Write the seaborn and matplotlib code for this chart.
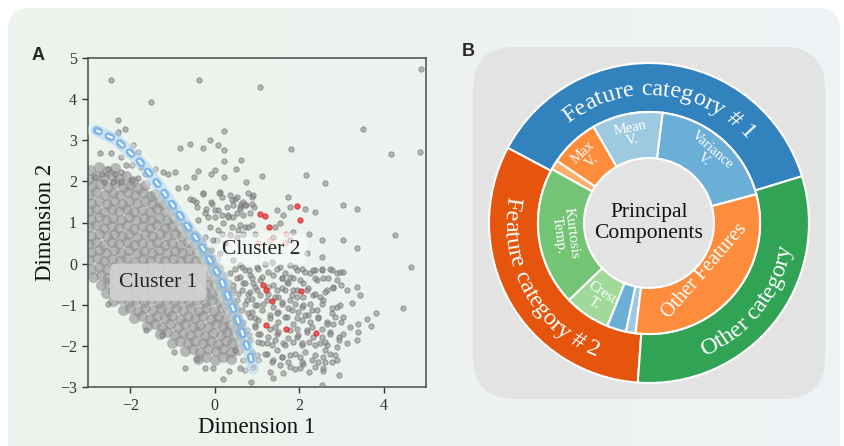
import numpy as np
import pandas as pd
import matplotlib
matplotlib.use("Agg")
import matplotlib.pyplot as plt
import seaborn as sns
from matplotlib.patches import FancyBboxPatch
from matplotlib.colors import LinearSegmentedColormap
from matplotlib.textpath import TextToPath
from matplotlib.font_manager import FontProperties

sns.set_theme(style="white")
plt.rcParams["font.family"] = ["Liberation Serif", "DejaVu Serif"]
plt.rcParams["lines.scale_dashes"] = False

# ---------------- DATA ----------------
# Cluster 1 (dense, light gray) points
cluster1_points = [
    (-2.95,2.28),(-2.75,2.35),(-2.55,2.25),(-2.35,2.32),
    (-2.98,2.05),(-2.8,2.12),(-2.62,2.08),(-2.45,2.15),(-2.27,2.05),(-2.1,2.12),(-1.93,2.02),
    (-2.9,1.88),(-2.72,1.93),(-2.53,1.86),(-2.36,1.95),(-2.18,1.87),(-2.0,1.92),(-1.82,1.85),(-1.65,1.9),
    (-2.97,1.68),(-2.8,1.73),(-2.6,1.66),(-2.42,1.72),(-2.25,1.67),(-2.05,1.74),(-1.88,1.66),(-1.7,1.72),(-1.52,1.65),(-1.42,1.7),
    (-2.92,1.47),(-2.74,1.53),(-2.55,1.46),(-2.38,1.52),(-2.2,1.45),(-2.02,1.53),(-1.84,1.47),(-1.66,1.52),(-1.48,1.45),(-1.3,1.5),(-1.2,1.44),
    (-2.98,1.28),(-2.8,1.33),(-2.62,1.26),(-2.44,1.32),(-2.26,1.27),(-2.08,1.33),(-1.9,1.26),(-1.72,1.31),(-1.54,1.25),(-1.36,1.33),(-1.18,1.27),(-1.02,1.3),
    (-2.93,1.08),(-2.75,1.13),(-2.57,1.06),(-2.4,1.12),(-2.22,1.07),(-2.04,1.13),(-1.86,1.06),(-1.68,1.12),(-1.5,1.05),(-1.32,1.11),(-1.14,1.07),(-0.97,1.12),(-0.82,1.05),
    (-2.97,0.88),(-2.8,0.93),(-2.62,0.86),(-2.44,0.92),(-2.26,0.87),(-2.08,0.93),(-1.9,0.85),(-1.72,0.91),(-1.54,0.87),(-1.36,0.93),(-1.18,0.86),(-1.0,0.91),(-0.83,0.86),(-0.65,0.9),
    (-2.92,0.68),(-2.74,0.73),(-2.56,0.66),(-2.38,0.72),(-2.2,0.67),(-2.02,0.73),(-1.84,0.65),(-1.66,0.71),(-1.48,0.67),(-1.3,0.73),(-1.12,0.66),(-0.94,0.71),(-0.77,0.66),(-0.6,0.72),(-0.47,0.67),
    (-2.98,0.48),(-2.8,0.53),(-2.62,0.46),(-2.44,0.52),(-2.26,0.47),(-2.08,0.53),(-1.9,0.45),(-1.72,0.51),(-1.54,0.47),(-1.36,0.53),(-1.18,0.46),(-1.0,0.51),(-0.82,0.46),(-0.64,0.52),(-0.47,0.47),(-0.32,0.5),
    (-2.93,0.28),(-2.75,0.33),(-2.57,0.26),(-2.39,0.32),(-2.21,0.27),(-2.03,0.33),(-1.85,0.25),(-1.67,0.31),(-1.49,0.27),(-1.31,0.33),(-1.13,0.26),(-0.95,0.31),(-0.77,0.26),(-0.59,0.32),(-0.41,0.27),(-0.25,0.3),(-0.15,0.25),
    (-2.97,0.08),(-2.79,0.13),(-2.61,0.06),(-2.43,0.12),(-2.25,0.07),(-2.07,0.13),(-1.89,0.05),(-1.71,0.11),(-1.53,0.07),(-1.35,0.13),(-1.17,0.06),(-0.99,0.11),(-0.81,0.06),(-0.63,0.12),(-0.45,0.07),(-0.27,0.11),(-0.1,0.06),(0.0,0.1),
    (-2.92,-0.12),(-2.74,-0.07),(-2.56,-0.14),(-2.38,-0.08),(-2.2,-0.13),(-2.02,-0.07),(-1.84,-0.15),(-1.66,-0.09),(-1.48,-0.13),(-1.3,-0.07),(-1.12,-0.14),(-0.94,-0.09),(-0.76,-0.14),(-0.58,-0.08),(-0.4,-0.13),(-0.22,-0.09),(-0.05,-0.14),(0.08,-0.1),
    (-2.88,-0.32),(-2.7,-0.27),(-2.52,-0.34),(-2.34,-0.28),(-2.16,-0.33),(-1.98,-0.27),(-1.8,-0.35),(-1.62,-0.29),(-1.44,-0.33),(-1.26,-0.27),(-1.08,-0.34),(-0.9,-0.29),(-0.72,-0.34),(-0.54,-0.28),(-0.36,-0.33),(-0.18,-0.29),(0.0,-0.34),(0.17,-0.3),
    (-2.7,-0.52),(-2.52,-0.47),(-2.34,-0.54),(-2.16,-0.48),(-1.98,-0.53),(-1.8,-0.47),(-1.62,-0.55),(-1.44,-0.49),(-1.26,-0.53),(-1.08,-0.47),(-0.9,-0.54),(-0.72,-0.49),(-0.54,-0.54),(-0.36,-0.48),(-0.18,-0.53),(0.0,-0.49),(0.15,-0.54),(0.28,-0.5),
    (-2.58,-0.72),(-2.4,-0.67),(-2.22,-0.74),(-2.04,-0.68),(-1.86,-0.73),(-1.68,-0.67),(-1.5,-0.75),(-1.32,-0.69),(-1.14,-0.73),(-0.96,-0.67),(-0.78,-0.74),(-0.6,-0.69),(-0.42,-0.74),(-0.24,-0.68),(-0.06,-0.73),(0.12,-0.69),(0.27,-0.74),(0.36,-0.7),
    (-2.4,-0.92),(-2.22,-0.87),(-2.04,-0.94),(-1.86,-0.88),(-1.68,-0.93),(-1.5,-0.87),(-1.32,-0.95),(-1.14,-0.89),(-0.96,-0.93),(-0.78,-0.87),(-0.6,-0.94),(-0.42,-0.89),(-0.24,-0.94),(-0.06,-0.88),(0.12,-0.93),(0.28,-0.89),(0.42,-0.94),
    (-2.18,-1.12),(-2.0,-1.07),(-1.82,-1.14),(-1.64,-1.08),(-1.46,-1.13),(-1.28,-1.07),(-1.1,-1.15),(-0.92,-1.09),(-0.74,-1.13),(-0.56,-1.07),(-0.38,-1.14),(-0.2,-1.09),(-0.02,-1.14),(0.16,-1.08),(0.32,-1.13),(0.47,-1.09),
    (-1.9,-1.32),(-1.72,-1.27),(-1.54,-1.34),(-1.36,-1.28),(-1.18,-1.33),(-1.0,-1.27),(-0.82,-1.35),(-0.64,-1.29),(-0.46,-1.33),(-0.28,-1.27),(-0.1,-1.34),(0.08,-1.29),(0.25,-1.34),(0.4,-1.28),(0.53,-1.33),
    (-1.6,-1.52),(-1.42,-1.47),(-1.24,-1.54),(-1.06,-1.48),(-0.88,-1.53),(-0.7,-1.47),(-0.52,-1.55),(-0.34,-1.49),(-0.16,-1.53),(0.02,-1.47),(0.2,-1.54),(0.36,-1.49),(0.5,-1.54),(0.6,-1.5),
    (-1.3,-1.72),(-1.12,-1.67),(-0.94,-1.74),(-0.76,-1.68),(-0.58,-1.73),(-0.4,-1.67),(-0.22,-1.75),(-0.04,-1.69),(0.14,-1.73),(0.3,-1.67),(0.46,-1.74),(0.62,-1.7),
    (-1.0,-1.92),(-0.82,-1.87),(-0.64,-1.94),(-0.46,-1.88),(-0.28,-1.93),(-0.1,-1.87),(0.08,-1.95),(0.26,-1.89),(0.42,-1.93),(0.6,-1.88),
    (-0.7,-2.12),(-0.52,-2.07),(-0.34,-2.14),(-0.16,-2.08),(0.02,-2.13),(0.2,-2.07),(0.38,-2.14),(0.55,-2.09),
    (-0.4,-2.32),(-0.2,-2.27),(0.0,-2.34),(0.2,-2.28),(0.38,-2.33),
]

# Sparse / cluster 2 gray points
cluster2_points = [
    # upper-left fringe above cluster 1
    (-2.29,3.17),(-2.72,2.68),(-2.45,2.68),(-2.21,2.60),(-1.93,2.88),(-1.82,2.72),(-1.97,2.40),(-2.09,2.40),
    (-1.74,2.36),(-1.66,2.19),(-2.21,2.23),(-2.37,2.19),(-2.53,2.31),(-2.68,2.19),(-2.84,2.11),(-2.61,1.99),
    (-2.41,1.99),(-2.21,1.99),(-1.97,2.03),(-1.82,2.07),(-2.30,3.49),(-2.12,3.27),(-2.29,3.19),
    # far outliers
    (-2.46,4.46),(-0.38,4.47),(1.06,4.29),(-1.52,3.94),(4.87,4.73),(3.52,3.27),(4.85,2.72),(4.17,2.66),
    (1.81,2.79),(1.13,2.14),(2.15,2.16),(2.61,1.95),(4.26,0.69),(4.64,-0.09),(4.45,-1.08),(3.81,-1.20),
    (3.43,-0.77),(3.25,-0.95),(3.60,-1.34),(3.70,-1.51),(3.40,-1.46),(3.38,-1.66),(2.94,-2.72),(2.53,-2.94),
    (2.61,-2.39),(2.56,-2.60),(1.90,-2.57),(0.20,-2.81),(0.85,-2.88),(0.60,-2.54),(0.34,-2.62),(-0.04,-2.55),
    (-0.23,-2.55),(-0.71,-2.55),(-0.97,-2.15),(-0.43,-2.31),(-1.62,-1.62),(-1.26,-1.74),(-2.53,-0.97),
    # upper middle
    (0.23,3.23),(-0.83,2.80),(-0.59,2.92),(-0.28,2.80),(-0.12,3.00),(0.08,2.88),(0.23,2.76),(0.63,2.53),
    (0.23,2.50),(0.00,2.27),(-0.08,2.19),(-0.40,2.26),(-0.48,2.11),(0.51,2.31),(0.75,1.99),(0.23,2.11),
    (-1.42,2.29),(-1.22,2.23),(-1.11,2.19),(-0.95,2.23),(-0.87,1.83),(-0.67,1.87),(-0.59,1.58),(-0.44,1.50),
    (-0.28,1.71),(-0.20,1.34),(-0.08,1.50),(0.12,1.75),(0.16,1.63),(0.35,1.67),(0.47,1.56),(0.63,1.46),
    (0.87,1.63),(0.94,1.38),(0.75,1.42),(0.59,1.38),(0.08,1.30),(0.31,1.18),(0.43,1.14),(-0.40,1.06),
    (-0.16,1.14),(0.00,1.14),(-0.24,0.65),(-0.04,0.57),(0.16,0.73),(0.55,0.81),(0.71,0.90),(0.87,0.94),
    (-0.08,0.33),(0.12,0.25),
    # cluster 2 body
    (-0.27,1.69),(0.11,1.72),(0.40,1.55),(0.52,1.63),(0.68,1.50),(0.79,1.71),(0.91,1.67),(0.28,1.38),
    (0.44,1.42),(0.60,1.34),(0.72,1.42),(0.87,1.46),(-0.07,1.46),(0.01,1.30),(-0.23,1.22),(0.16,1.18),
    (0.32,1.14),(0.52,1.22),(0.68,1.18),(0.83,1.22),(1.47,1.30),(1.62,1.18),(1.74,1.63),(1.78,1.38),
    (2.14,1.34),(2.37,1.26),(3.04,1.42),(3.36,1.34),(-0.51,1.55),(-0.43,1.38),
    (-0.11,0.90),(0.08,0.81),(0.20,0.98),(0.40,0.90),(0.60,0.94),(0.79,0.90),(0.95,0.73),(0.52,0.65),
    (0.68,0.73),(0.05,0.57),(0.24,0.49),(0.36,0.69),(1.43,0.90),(1.54,0.98),(1.86,0.77),(2.22,0.73),
    (2.53,0.57),(3.04,0.57),(3.36,0.37),(2.18,0.25),(2.53,0.17),(1.39,0.65),(1.78,0.57),
    (0.44,0.09),(0.60,-0.04),(0.72,-0.16),(0.83,-0.28),(0.99,-0.08),(1.19,0.00),(1.35,0.05),(1.54,-0.08),
    (1.78,-0.04),(1.94,-0.16),(2.06,-0.12),(2.26,-0.24),(2.37,-0.16),(2.53,-0.16),(2.73,-0.12),(2.89,-0.24),
    (3.04,-0.20),(0.36,-0.24),(0.52,-0.36),(0.68,-0.48),(0.91,-0.48),(1.07,-0.40),(1.27,-0.56),(1.39,-0.28),
    (1.58,-0.36),(1.70,-0.44),(1.86,-0.36),(2.10,-0.48),(2.41,-0.40),(2.57,-0.36),(2.89,-0.40),(2.81,-0.56),
    (3.12,-0.64),(3.36,-0.56),(0.44,-0.64),(0.64,-0.64),(0.79,-0.73),(0.99,-0.64),(1.47,-0.64),(1.66,-0.64),
    (1.86,-0.64),(2.18,-0.64),(2.33,-0.77),(2.49,-0.81),(2.65,-0.64),
    (0.52,-0.89),(0.72,-0.97),(0.87,-0.85),(0.99,-1.01),(1.23,-0.89),(1.43,-0.81),(1.58,-0.97),(1.78,-0.89),
    (1.94,-0.81),(2.06,-1.05),(2.26,-0.97),(2.41,-1.13),(2.57,-0.89),(2.77,-1.21),(2.89,-1.05),(0.60,-1.13),
    (0.79,-1.21),(0.95,-1.33),(1.11,-1.13),(1.31,-1.25),(1.50,-1.17),(1.66,-1.29),(1.82,-1.13),(1.94,-1.33),
    (2.14,-1.25),(2.26,-1.42),(2.45,-1.29),(2.65,-1.42),(2.81,-1.46),(3.04,-1.29),(3.20,-1.54),
    (0.60,-1.54),(0.76,-1.62),(0.95,-1.50),(1.07,-1.70),(1.31,-1.58),(1.47,-1.70),(1.78,-1.62),(1.94,-1.78),
    (2.18,-1.62),(2.33,-1.78),(2.53,-1.58),(2.73,-1.66),(2.93,-1.78),(3.04,-1.70),(0.83,-1.86),(1.03,-1.90),
    (1.23,-1.94),(1.43,-1.86),(1.62,-1.94),(1.86,-1.90),(2.06,-1.98),(2.22,-1.90),(2.49,-1.94),(2.65,-1.98),
    (2.89,-2.02),(3.12,-1.94),(3.36,-1.86),
    (0.99,-2.23),(1.23,-2.19),(1.39,-2.35),(1.58,-2.27),(1.78,-2.23),(2.02,-2.27),(2.10,-2.43),(2.29,-2.35),
    (2.57,-2.27),(2.73,-2.19),(2.89,-2.35),(0.91,-2.51),(1.31,-2.63),(1.54,-2.47),(1.78,-2.51),(2.02,-2.55),
    (2.22,-2.63),(2.37,-2.51),(2.57,-2.55),(1.39,-2.79),(1.62,-2.67),(0.68,-2.35),(0.72,-2.59),
    # dense core of cluster 2
    (0.48,-0.12),(0.64,-0.08),(0.80,-0.16),(1.03,-0.12),(1.27,-0.20),(1.47,-0.12),(1.66,-0.24),(1.90,-0.08),
    (2.14,-0.20),(2.33,-0.16),(2.53,-0.12),(2.77,-0.16),(2.96,-0.20),(0.60,-0.32),(0.87,-0.36),(1.11,-0.32),
    (1.58,-0.36),(1.78,-0.32),(2.02,-0.40),(2.37,-0.36),(2.69,-0.36),
    (0.44,-0.52),(0.72,-0.48),(0.95,-0.56),(1.39,-0.52),(1.58,-0.60),(1.74,-0.48),(1.94,-0.64),(2.21,-0.60),
    (2.37,-0.73),(2.61,-0.68),(2.81,-0.60),(3.00,-0.52),(0.56,-0.73),(0.83,-0.68),(1.07,-0.77),(1.27,-0.73),
    (1.50,-0.81),(1.82,-0.77),(2.10,-0.81),
    (0.48,-0.93),(0.76,-0.89),(0.95,-1.01),(1.15,-0.97),(1.39,-1.05),(1.58,-0.93),(1.74,-1.09),(1.90,-0.97),
    (2.10,-1.01),(2.29,-1.13),(2.53,-0.97),(2.77,-1.09),(2.96,-1.01),(0.64,-1.13),(0.87,-1.17),(1.47,-1.21),
    (1.98,-1.17),
    (0.48,-1.33),(0.68,-1.42),(0.83,-1.29),(1.03,-1.37),(1.31,-1.33),(1.50,-1.42),(1.70,-1.29),(1.86,-1.46),
    (2.06,-1.37),(2.21,-1.25),(2.45,-1.33),(2.65,-1.46),(2.85,-1.29),(3.00,-1.42),(0.95,-1.54),(1.43,-1.54),
    (1.94,-1.58),(2.29,-1.54),
    (0.56,-1.66),(0.80,-1.74),(1.03,-1.70),(1.27,-1.78),(1.50,-1.66),(1.74,-1.82),(1.98,-1.74),(2.18,-1.66),
    (2.53,-1.78),(2.73,-1.70),(2.93,-1.86),(0.72,-1.94),(1.11,-1.94),(1.35,-1.98),(1.66,-1.98),(2.06,-1.94),
    (2.37,-1.98),(2.61,-1.90),
    (0.48,-2.10),(0.87,-2.14),(1.19,-2.19),(1.47,-2.10),(1.58,-2.27),(1.90,-2.19),(2.14,-2.14),(2.37,-2.23),
    (2.61,-2.10),(2.85,-2.23),(1.03,-2.35),(1.35,-2.39),(1.74,-2.39),(2.06,-2.39),(2.45,-2.39),(2.77,-2.39),
]

# Highlighted (red) points
highlight_points = [
    (1.07,1.20),(1.19,1.16),(1.29,0.90),(1.94,1.40),(2.02,1.07),(1.15,-0.52),(1.21,-0.64),
    (1.35,-0.91),(2.04,-0.67),(1.21,-1.50),(1.69,-1.58),(2.40,-1.68),
]
highlight_faint_points = [(1.69,0.73),(1.31,0.57),(1.03,0.49),(1.66,0.49)]

# Dashed cluster boundary
boundary_x = [-2.80, -2.33, -1.77, -1.30, -0.83, -0.35, 0.12, 0.52, 0.83, 0.91]
boundary_y = [3.24, 3.01, 2.48, 1.87, 1.18, 0.49, -0.32, -1.30, -2.19, -2.55]

x_ticks = [-2, 0, 2, 4]
y_ticks = [-3, -2, -1, 0, 1, 2, 3, 4, 5]

# Donut chart
outer_labels = ["Feature category # 1", "Feature category # 2", "Other category"]
outer_values = [135, 114, 111]
inner_labels = ["Variance\nV.", "Mean\nV.", "Max\nV.", "", "Kurtosis\nTemp.", "Crest\nT.", "", "", "Other Features"]
inner_values = [68, 37, 26, 5, 73, 24, 10, 5, 112]
center_label = "Principal\nComponents"

# ---------------- STYLE ----------------
outer_colors = ["#3182bd", "#e6550d", "#31a354"]
inner_colors = ["#6baed6", "#9ecae1", "#fd8d3c", "#fdae6b", "#74c476", "#a1d99b", "#6baed6", "#9ecae1", "#fd8d3c"]
inner_label_radius = {"Kurtosis\nTemp.": 0.53, "Other Features": 0.46}
inner_label_size = {"Other Features": 14.5, "Kurtosis\nTemp.": 11}
SERIF = "Liberation Serif"

W, H = 845, 446
fig = plt.figure(figsize=(W / 100, H / 100), dpi=100)
fig.patch.set_facecolor("white")

# background panel
bg = fig.add_axes([0, 0, 1, 1])
bg.set_xlim(0, W)
bg.set_ylim(0, H)
bg.set_axis_off()
panel = FancyBboxPatch((8, -30), W - 13, H - 8 + 30, boxstyle="round,pad=0,rounding_size=22",
                       fc="none", ec="none")
bg.add_patch(panel)
cmap = LinearSegmentedColormap.from_list("bgc", ["#ecf4ec", "#edf3ef", "#eef2f5"])
im = bg.imshow(np.linspace(0, 1, 256)[None, :], extent=[0, W, 0, H], aspect="auto", cmap=cmap, zorder=0)
im.set_clip_path(panel)

# ---------------- Panel A ----------------
ax = fig.add_axes([88 / W, 59 / H, 338 / W, 329 / H])
ax.set_facecolor("none")
df1 = pd.DataFrame(cluster1_points, columns=["x", "y"])
df2 = pd.DataFrame(cluster2_points, columns=["x", "y"])
dfr = pd.DataFrame(highlight_points, columns=["x", "y"])
dff = pd.DataFrame(highlight_faint_points, columns=["x", "y"])

sns.scatterplot(data=df1, x="x", y="y", ax=ax, s=55, color="#909090", alpha=0.6,
                edgecolor="#858585", linewidth=0.3, zorder=2)
sns.scatterplot(data=df2, x="x", y="y", ax=ax, s=15, color="#8a8a8a", alpha=0.6,
                edgecolor="#666666", linewidth=0.6, zorder=3)
sns.scatterplot(data=dff, x="x", y="y", ax=ax, s=15, color="#ef6b6b", alpha=0.35,
                edgecolor="#e03030", linewidth=0.6, zorder=4)
sns.scatterplot(data=dfr, x="x", y="y", ax=ax, s=15, color="#e8282b", alpha=0.75,
                edgecolor="#d01010", linewidth=0.6, zorder=4)

# boundary: glow + dashed capsules + white dashes
ax.plot(boundary_x, boundary_y, color="#f4fbf4", lw=13, alpha=0.35, solid_capstyle="round", zorder=5)
ax.plot(boundary_x, boundary_y, color="#8ec3ef", lw=8.5, alpha=0.35, solid_capstyle="round", zorder=5)
ax.plot(boundary_x, boundary_y, color="#7db6ea", lw=5.5, linestyle=(0, (2.2, 7.4)),
        dash_capstyle="round", zorder=6)
ax.plot(boundary_x, boundary_y, color="white", lw=1.5, linestyle=(1.05, (4.3, 5.3)),
        dash_capstyle="butt", zorder=7)

ax.text(-1.34, -0.45, "Cluster 1", fontsize=15.5, ha="center", va="center", zorder=8,
        bbox=dict(boxstyle="round,pad=0.42,rounding_size=0.3", fc="#d3d3d3", ec="none", alpha=0.9))
ax.text(1.11, 0.35, "Cluster 2", fontsize=15.5, ha="center", va="center", zorder=8,
        bbox=dict(boxstyle="round,pad=0.3", fc="white", ec="none", alpha=0.45))

ax.set_xlim(-3, 5)
ax.set_ylim(-3, 5)
ax.set_xticks(x_ticks)
ax.set_yticks(y_ticks)
ax.tick_params(direction="out", length=4, width=1, colors="#333333", labelsize=11.5, pad=4,
               bottom=True, left=True)
for lbl in ax.get_xticklabels() + ax.get_yticklabels():
    lbl.set_fontfamily(SERIF)
for sp in ax.spines.values():
    sp.set_visible(True)
    sp.set_color("#4a4a4a")
    sp.set_linewidth(1.1)
ax.set_xlabel("Dimension 1", fontsize=16.5, labelpad=2, color="#111111", family=SERIF)
ax.set_ylabel("Dimension 2", fontsize=16.5, labelpad=3, color="#111111", family=SERIF)

fig.text(38 / W, 1 - 55 / H, "A", fontsize=13, fontweight="bold", family="Liberation Sans",
         ha="center", va="center")
fig.text(468 / W, 1 - 52 / H, "B", fontsize=13, fontweight="bold", family="Liberation Sans",
         ha="center", va="center")

# ---------------- Panel B ----------------
dax = fig.add_axes([473 / W, 47 / H, 352 / W, 352 / H])
dax.add_patch(FancyBboxPatch((-1.1, -1.1), 2.2, 2.2, boxstyle="round,pad=0,rounding_size=0.26",
                             fc="#e3e3e3", ec="none", zorder=0))
dax.pie(outer_values, radius=1.0, colors=outer_colors, startangle=17, counterclock=True,
        wedgeprops=dict(width=0.306, edgecolor="white", linewidth=1.5))
dax.pie(inner_values, radius=0.694, colors=inner_colors, startangle=15, counterclock=True,
        wedgeprops=dict(width=0.288, edgecolor="white", linewidth=1.5))
dax.set_xlim(-1.1, 1.1)
dax.set_ylim(-1.1, 1.1)
dax.set_aspect("equal")
dax.set_axis_off()
dax.apply_aspect()
p0 = dax.transData.transform((0, 0))
p1 = dax.transData.transform((1, 0))
ppu = p1[0] - p0[0]

ttp = TextToPath()


def adv(t, prop):
    if not t:
        return 0.0
    w1 = ttp.get_text_width_height_descent(t + "|", prop, ismath=False)[0]
    w0 = ttp.get_text_width_height_descent("|", prop, ismath=False)[0]
    return (w1 - w0) * 100 / 72 / ppu


def arc_text(s, center_deg, r_base, fs, upper):
    prop = FontProperties(family=SERIF, size=fs)
    total = adv(s, prop)
    for i, ch in enumerate(s):
        if ch == " ":
            continue
        a0 = adv(s[:i], prop)
        a1 = adv(s[:i + 1], prop)
        pos = (a0 + a1) / 2 - total / 2
        dtheta = np.degrees(pos / r_base)
        if upper:
            ang = center_deg - dtheta
            rot = ang - 90
        else:
            ang = center_deg + dtheta
            rot = ang + 90
        x = r_base * np.cos(np.radians(ang))
        y = r_base * np.sin(np.radians(ang))
        dax.text(x, y, ch, fontsize=fs, color="white", ha="center", va="baseline",
                 rotation=rot, rotation_mode="anchor", family=SERIF, zorder=10)


# outer labels (curved)
starts = 17 + np.concatenate([[0], np.cumsum(outer_values)[:-1]])
for lab, st, v in zip(outer_labels, starts, outer_values):
    mid = (st + v / 2) % 360
    upper = 0 < mid < 180
    fs = 17.5
    cap = 0.66 * fs * 100 / 72 / ppu
    r = 0.85 - cap / 2 if upper else 0.85 + cap / 2
    arc_text(lab, mid, r, fs, upper)

# inner labels
istarts = 15 + np.concatenate([[0], np.cumsum(inner_values)[:-1]])
for lab, st, v in zip(inner_labels, istarts, inner_values):
    if not lab:
        continue
    mid = (st + v / 2) % 360
    rot = mid - 90 if 0 < mid < 180 else mid + 90
    r = inner_label_radius.get(lab, 0.565)
    fs = inner_label_size.get(lab, 10.5)
    dax.text(r * np.cos(np.radians(mid)), r * np.sin(np.radians(mid)), lab, fontsize=fs,
             color="white", ha="center", va="center", rotation=rot, rotation_mode="anchor",
             linespacing=1.0, multialignment="center", zorder=10, family=SERIF)

dax.text(0, 0, center_label, fontsize=15.5, color="#111111", ha="center", va="center",
         linespacing=1.15, zorder=10, family=SERIF)

fig.savefig("out.png", dpi=100)
